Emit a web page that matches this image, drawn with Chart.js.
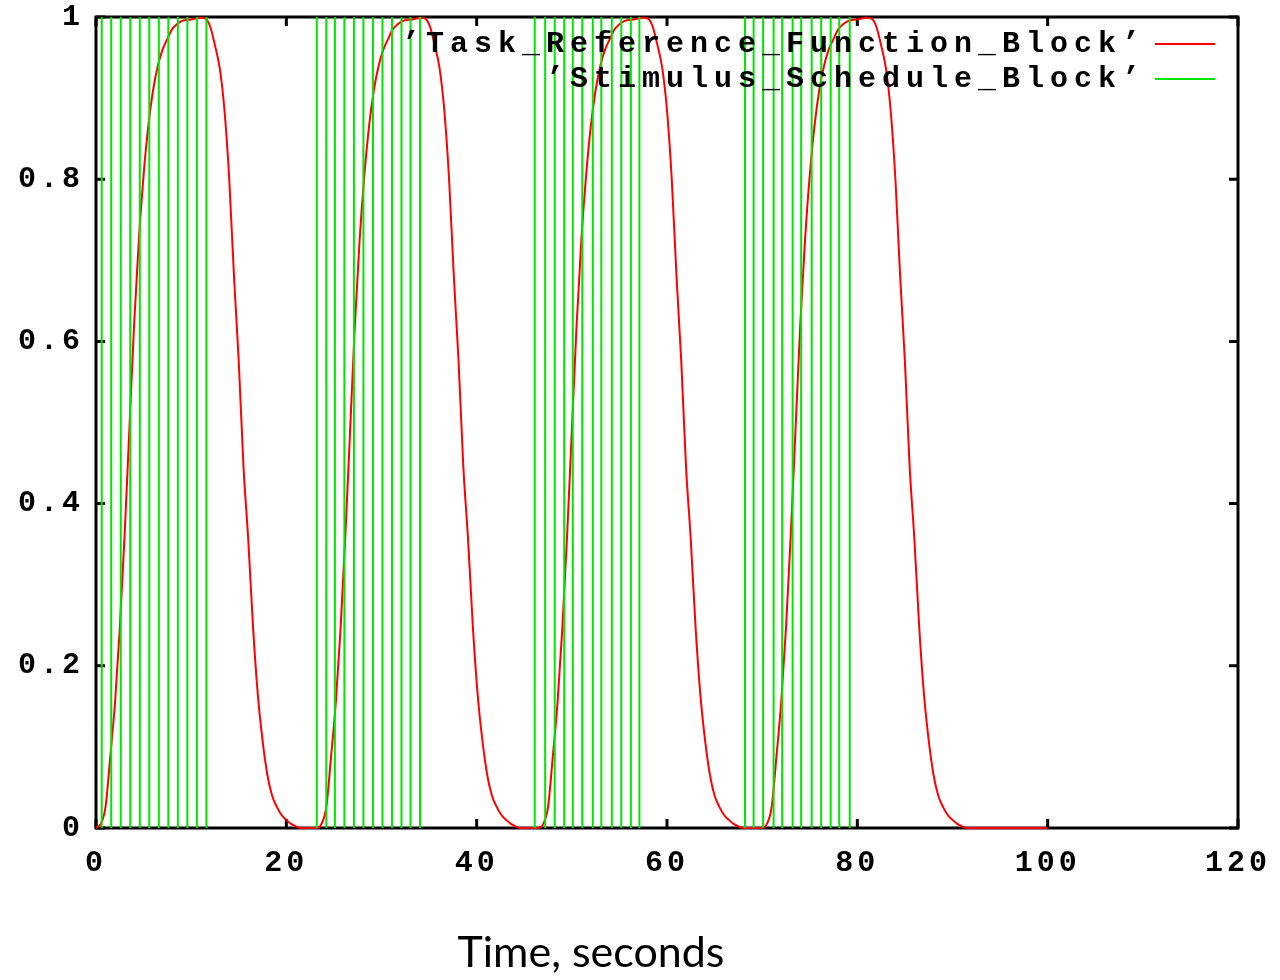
<!DOCTYPE html>
<html>
<head>
<meta charset="utf-8">
<script src="https://cdn.jsdelivr.net/npm/chart.js@4.4.1/dist/chart.umd.min.js"></script>
<style>
  html, body { margin: 0; padding: 0; background: #ffffff; }
  #wrap { position: relative; width: 1280px; height: 980px; }
</style>
</head>
<body>
<div id="wrap"><canvas id="c" width="1280" height="980"></canvas></div>
<script>
// Axis ticks
const xTicks = [0, 20, 40, 60, 80, 100, 120];
const yTicks = [0, 0.2, 0.4, 0.6, 0.8, 1];

// Task reference function (seconds, response)
const responseTimes = [
  0, 0.5, 1.0, 1.5, 2.0, 2.5, 3.0, 3.5, 4.0, 4.5, 5.0, 5.5, 6.0, 6.5, 7.0, 7.5, 8.0, 8.5, 9.0, 10.0, 11.0,
  11.5, 12.0, 12.5, 13.0, 13.5, 14.0, 14.5, 15.0, 15.5, 16.0, 16.5, 17.0, 17.5, 18.0, 18.5, 19.0, 19.5, 20.0, 20.5, 21.0, 21.5,
  23.2, 23.7, 24.2, 24.7, 25.2, 25.7, 26.2, 26.7, 27.2, 27.7, 28.2, 28.7, 29.2, 29.7, 30.2, 30.7, 31.2, 31.7, 32.2, 33.2, 34.2,
  34.6, 35.1, 35.6, 36.1, 36.6, 37.1, 37.6, 38.1, 38.6, 39.1, 39.6, 40.1, 40.6, 41.1, 41.6, 42.1, 42.6, 43.1, 43.6, 44.1, 44.6,
  46.5, 47.0, 47.5, 48.0, 48.5, 49.0, 49.5, 50.0, 50.5, 51.0, 51.5, 52.0, 52.5, 53.0, 53.5, 54.0, 54.5, 55.0, 55.5, 56.5, 57.5,
  58.0, 58.5, 59.0, 59.5, 60.0, 60.5, 61.0, 61.5, 62.0, 62.5, 63.0, 63.5, 64.0, 64.5, 65.0, 65.5, 66.0, 66.5, 67.0, 67.5, 68.0,
  70.0, 70.5, 71.0, 71.5, 72.0, 72.5, 73.0, 73.5, 74.0, 74.5, 75.0, 75.5, 76.0, 76.5, 77.0, 77.5, 78.0, 78.5, 79.0, 80.0, 81.0,
  81.5, 82.0, 82.5, 83.0, 83.5, 84.0, 84.5, 85.0, 85.5, 86.0, 86.5, 87.0, 87.5, 88.0, 88.5, 89.0, 89.5, 90.0, 90.5, 91.0, 91.5,
  100
];
const responseValues = [
  0, 0.005, 0.026, 0.088, 0.155, 0.246, 0.36, 0.49, 0.62, 0.725, 0.805, 0.866, 0.91, 0.94, 0.96, 0.973, 0.985, 0.991, 0.995, 0.997, 0.999,
  0.998, 0.988, 0.965, 0.937, 0.885, 0.80, 0.68, 0.575, 0.445, 0.355, 0.248, 0.165, 0.108, 0.066, 0.04, 0.026, 0.016, 0.01, 0.005, 0.002, 0,
  0, 0.005, 0.026, 0.088, 0.155, 0.246, 0.36, 0.49, 0.62, 0.725, 0.805, 0.866, 0.91, 0.94, 0.96, 0.973, 0.985, 0.991, 0.995, 0.997, 0.999,
  0.998, 0.988, 0.965, 0.937, 0.885, 0.80, 0.68, 0.575, 0.445, 0.355, 0.248, 0.165, 0.108, 0.066, 0.04, 0.026, 0.016, 0.01, 0.005, 0.002, 0,
  0, 0.005, 0.026, 0.088, 0.155, 0.246, 0.36, 0.49, 0.62, 0.725, 0.805, 0.866, 0.91, 0.94, 0.96, 0.973, 0.985, 0.991, 0.995, 0.997, 0.999,
  0.998, 0.988, 0.965, 0.937, 0.885, 0.80, 0.68, 0.575, 0.445, 0.355, 0.248, 0.165, 0.108, 0.066, 0.04, 0.026, 0.016, 0.01, 0.005, 0.002, 0,
  0, 0.005, 0.026, 0.088, 0.155, 0.246, 0.36, 0.49, 0.62, 0.725, 0.805, 0.866, 0.91, 0.94, 0.96, 0.973, 0.985, 0.991, 0.995, 0.997, 0.999,
  0.998, 0.988, 0.965, 0.937, 0.885, 0.80, 0.68, 0.575, 0.445, 0.355, 0.248, 0.165, 0.108, 0.066, 0.04, 0.026, 0.016, 0.01, 0.005, 0.002, 0,
  0
];

// Stimulus onsets (seconds), four blocks of twelve
const stimulusTimes = [
  0.6, 1.6, 2.6, 3.6, 4.6, 5.6, 6.6, 7.6, 8.6, 9.6, 10.6, 11.6,
  23.2, 24.2, 25.1, 26.1, 27.1, 28.1, 29.1, 30.1, 31.1, 32.1, 33.05, 34.05,
  46.1, 47.2, 48.2, 49.2, 50.1, 51.1, 52.2, 53.1, 54.2, 55.2, 56.2, 57.1,
  68.2, 69.1, 70.1, 71.2, 72.1, 73.2, 74.1, 75.2, 76.2, 77.2, 78.1, 79.2
];
const stimulusLevel = 1;

const seriesLabels = ['\u2019Task_Reference_Function_Block\u2019', '\u2019Stimulus_Schedule_Block\u2019'];
const axisTitle = 'Time, seconds';

const monoFamily = '"Liberation Mono", "DejaVu Sans Mono", monospace';
const tickSpacing = '4px';

const responsePoints = responseTimes.map((t, i) => ({ x: t, y: responseValues[i] }));
const stimulusPoints = [];
stimulusTimes.forEach(t => {
  stimulusPoints.push({ x: t, y: 0 }, { x: t, y: stimulusLevel }, { x: t, y: null });
});

// Spaced-out monospace text for the tick labels
const spacingPlugin = {
  id: 'spacing',
  beforeInit(chart) { chart.ctx.letterSpacing = tickSpacing; },
  beforeUpdate(chart) { chart.ctx.letterSpacing = tickSpacing; },
  beforeDraw(chart) { chart.ctx.letterSpacing = tickSpacing; }
};

// Plot frame with inward tick marks on all four sides
const framePlugin = {
  id: 'frame',
  beforeDatasetsDraw(chart) {
    const { ctx, chartArea: a, scales } = chart;
    ctx.save();
    ctx.strokeStyle = '#000';
    ctx.lineWidth = 3;
    ctx.strokeRect(a.left, a.top, a.right - a.left, a.bottom - a.top);
    const len = 9;
    ctx.beginPath();
    xTicks.forEach(v => {
      const px = scales.x.getPixelForValue(v);
      ctx.moveTo(px, a.bottom); ctx.lineTo(px, a.bottom - len);
      ctx.moveTo(px, a.top); ctx.lineTo(px, a.top + len);
    });
    yTicks.forEach(v => {
      const py = scales.y.getPixelForValue(v);
      ctx.moveTo(a.left, py); ctx.lineTo(a.left + len, py);
      ctx.moveTo(a.right, py); ctx.lineTo(a.right - len, py);
    });
    ctx.stroke();
    ctx.restore();
  },
  afterDraw(chart) {
    const { ctx, chartArea: a } = chart;
    // key in the upper right corner, text right-aligned before a line sample
    ctx.save();
    ctx.letterSpacing = '6px';
    ctx.font = 'bold 30px ' + monoFamily;
    ctx.textAlign = 'right';
    ctx.textBaseline = 'middle';
    ctx.fillStyle = '#000';
    const rows = [a.top + 27, a.top + 62];
    chart.data.datasets.forEach((ds, i) => {
      const y = rows[i];
      ctx.fillText(ds.label, a.right - 92, y);
      ctx.beginPath();
      ctx.strokeStyle = ds.borderColor;
      ctx.lineWidth = 2;
      ctx.moveTo(a.right - 83, y);
      ctx.lineTo(a.right - 23, y);
      ctx.stroke();
    });
    // axis title
    ctx.letterSpacing = '0px';
    ctx.font = '43px Lato, "Open Sans", sans-serif';
    ctx.textAlign = 'center';
    ctx.textBaseline = 'middle';
    ctx.fillText(axisTitle, 591, 953);
    ctx.restore();
  }
};

new Chart(document.getElementById('c'), {
  type: 'scatter',
  data: {
    datasets: [
      {
        label: seriesLabels[0],
        data: responsePoints,
        showLine: true,
        borderColor: '#ff0000',
        borderWidth: 2,
        pointRadius: 0,
        cubicInterpolationMode: 'monotone',
        clip: 6,
        order: 2
      },
      {
        label: seriesLabels[1],
        data: stimulusPoints,
        showLine: true,
        spanGaps: false,
        borderColor: '#00e600',
        borderWidth: 2,
        pointRadius: 0,
        clip: 6,
        order: 1
      }
    ]
  },
  options: {
    responsive: false,
    animation: false,
    devicePixelRatio: 1,
    layout: { padding: { left: 0, right: 42, top: 17, bottom: 0 } },
    plugins: { legend: { display: false }, tooltip: { enabled: false } },
    scales: {
      x: {
        type: 'linear',
        min: 0,
        max: 120,
        grid: { display: false, drawTicks: false },
        border: { display: false },
        afterBuildTicks(s) { s.ticks = xTicks.map(v => ({ value: v })); },
        afterFit(s) { s.height = 152; s.paddingLeft = 0; s.paddingRight = 0; },
        ticks: {
          color: '#000',
          padding: 17,
          maxRotation: 0,
          font: { family: monoFamily, weight: 'bold', size: 30 },
          callback: v => String(v)
        }
      },
      y: {
        type: 'linear',
        min: 0,
        max: 1,
        grid: { display: false, drawTicks: false },
        border: { display: false },
        afterBuildTicks(s) { s.ticks = yTicks.map(v => ({ value: v })); },
        afterFit(s) { s.width = 96; s.paddingTop = 0; s.paddingBottom = 0; },
        ticks: {
          color: '#000',
          padding: 12,
          font: { family: monoFamily, weight: 'bold', size: 30 },
          callback: v => (v === 0 || v === 1) ? String(v) : v.toFixed(1)
        }
      }
    }
  },
  plugins: [spacingPlugin, framePlugin]
});
</script>
</body>
</html>
